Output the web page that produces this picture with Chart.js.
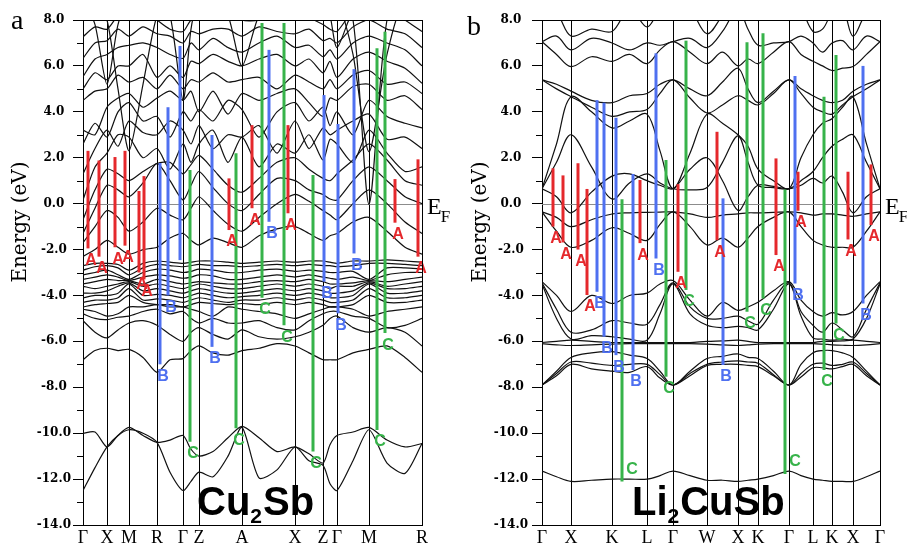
<!DOCTYPE html>
<html><head><meta charset="utf-8">
<script src="https://cdn.jsdelivr.net/npm/chart.js@4.4.0/dist/chart.umd.min.js"></script>
<style>
html,body{margin:0;padding:0;background:#fff;}
#wrap{position:relative;width:907px;height:545px;overflow:hidden;background:#fff;}
#ca{position:absolute;left:0;top:0;}
#cb{position:absolute;left:455px;top:0;}
</style></head><body>
<div id="wrap"><canvas id="ca" width="455" height="545"></canvas><canvas id="cb" width="452" height="545"></canvas></div>
<script>
// ---------------- Panel a : Cu2Sb ----------------
const kLabelsA = ['Γ','X','M','R','Γ','Z','A','X','Z','Γ','M','R'];
const kPosA    = [0,24,46,74,100,116,159,212,240,254,286,339];
const kSampleA = [0,12,24,35,46,60,74,87,100,108,116,130,145,159,176,194,212,226,240,247,254,270,286,304,322,339];
const bandsA = [
 [-12.5,-11.5,-10.6,-10.1,-9.85,-10.0,-10.4,-11.7,-12.5,-12.1,-11.7,-11.9,-11.0,-9.75,-11.95,-11.6,-10.6,-11.2,-11.4,-12.2,-12.5,-11.2,-9.85,-11.3,-11.75,-10.45],
 [-10.0,-9.95,-10.6,-10.1,-9.75,-10.1,-10.4,-10.3,-10.1,-10.7,-11.0,-10.8,-10.2,-9.7,-10.2,-10.8,-10.6,-10.9,-11.3,-10.5,-10.1,-9.95,-9.75,-10.3,-10.6,-10.45],
 [-6.8,-6.4,-6.3,-6.4,-6.35,-6.7,-7.35,-6.8,-6.75,-6.4,-6.2,-6.5,-6.6,-6.4,-6.3,-6.1,-6.2,-6.5,-6.8,-6.8,-6.8,-6.5,-6.35,-6.2,-6.7,-7.35],
 [-5.1,-5.6,-5.85,-5.5,-5.2,-5.1,-5.3,-5.7,-6.0,-5.6,-5.4,-5.7,-5.9,-5.5,-5.8,-5.9,-5.8,-5.6,-5.3,-5.0,-4.9,-5.4,-5.6,-5.4,-5.6,-6.2],
 [-4.8,-5.0,-5.05,-4.95,-4.9,-4.7,-4.6,-4.8,-4.7,-5.0,-5.2,-5.0,-5.2,-5.2,-5.1,-5.4,-5.5,-5.1,-4.8,-4.7,-4.7,-4.9,-5.0,-5.4,-5.3,-5.0],
 [-4.6,-4.7,-4.9,-4.8,-4.5,-4.5,-4.4,-4.5,-4.5,-4.6,-4.7,-4.9,-4.5,-4.6,-4.7,-4.8,-5.0,-4.8,-4.6,-4.5,-4.5,-4.6,-4.9,-4.7,-4.6,-4.5],
 [-2.7,-2.6,-2.6,-2.65,-2.9,-2.6,-2.5,-2.55,-2.6,-2.55,-2.5,-2.5,-2.55,-2.6,-2.55,-2.5,-2.55,-2.5,-2.5,-2.55,-2.6,-2.5,-2.5,-2.45,-2.5,-2.55],
 [-2.9,-2.75,-2.7,-2.8,-3.1,-2.8,-2.65,-2.7,-2.75,-2.7,-2.65,-2.7,-2.7,-2.75,-2.7,-2.65,-2.7,-2.65,-2.7,-2.7,-2.75,-2.7,-2.6,-2.6,-2.65,-2.7],
 [-3.1,-3.0,-2.9,-3.1,-3.3,-3.0,-2.85,-2.9,-3.0,-2.95,-2.85,-2.9,-3.0,-3.0,-2.9,-2.85,-2.95,-2.9,-2.95,-3.0,-3.0,-2.95,-3.3,-2.8,-2.8,-2.85],
 [-3.3,-3.2,-3.1,-3.2,-3.35,-3.2,-3.1,-3.15,-3.25,-3.2,-3.1,-3.15,-3.3,-3.3,-3.2,-3.1,-3.2,-3.1,-3.2,-3.25,-3.3,-3.2,-3.35,-3.1,-3.0,-3.0],
 [-3.5,-3.4,-3.3,-3.35,-3.35,-3.5,-3.3,-3.4,-3.5,-3.45,-3.4,-3.45,-3.5,-3.5,-3.4,-3.35,-3.4,-3.3,-3.4,-3.5,-3.5,-3.45,-3.35,-3.4,-3.3,-3.2],
 [-3.6,-3.7,-3.6,-3.5,-3.4,-3.6,-3.5,-3.6,-3.7,-3.6,-3.5,-3.6,-3.7,-3.7,-3.6,-3.5,-3.6,-3.5,-3.6,-3.7,-3.6,-3.6,-3.4,-3.6,-3.5,-3.4],
 [-3.9,-3.9,-3.8,-3.6,-3.45,-3.8,-3.7,-3.8,-3.9,-3.8,-3.7,-3.8,-3.9,-3.9,-3.8,-3.7,-3.8,-3.7,-3.8,-3.9,-3.9,-3.8,-3.45,-3.7,-3.7,-3.6],
 [-4.1,-4.0,-4.0,-3.9,-3.5,-4.0,-3.95,-4.0,-4.1,-4.0,-3.9,-4.0,-4.1,-4.05,-4.0,-3.9,-4.0,-3.9,-4.0,-4.1,-4.1,-4.0,-3.5,-3.9,-3.9,-3.8],
 [-4.3,-4.2,-4.2,-4.1,-3.7,-4.2,-4.15,-4.2,-4.3,-4.2,-4.1,-4.2,-4.3,-4.2,-4.2,-4.1,-4.2,-4.1,-4.2,-4.3,-4.3,-4.2,-3.7,-4.1,-4.1,-4.0],
 [-4.5,-4.4,-4.35,-4.3,-4.0,-4.3,-4.4,-4.4,-4.5,-4.4,-4.3,-4.35,-4.4,-4.35,-4.4,-4.3,-4.4,-4.3,-4.4,-4.5,-4.5,-4.4,-4.0,-4.3,-4.3,-4.2],
 [-2.3,-2.0,-1.6,-1.9,-2.2,-2.0,-1.9,-1.5,-1.3,-1.6,-1.8,-1.5,-1.7,-1.9,-1.4,-1.1,-1.0,-1.3,-1.6,-1.4,-1.3,-0.8,-0.6,-1.2,-1.9,-2.2],
 [-1.7,-1.0,-0.3,-0.6,-1.2,-0.8,-0.2,-0.5,-0.7,-0.2,0.3,-0.3,-0.9,-1.2,-0.6,0.0,0.4,0.1,-0.3,-0.5,-0.7,0.0,0.6,0.0,-0.8,-1.3],
 [-1.3,-0.2,0.8,0.6,0.3,0.9,1.75,1.0,0.16,0.8,1.4,0.7,0.0,-0.3,0.4,1.1,1.0,0.6,0.4,0.2,0.16,1.0,1.6,1.0,0.3,0.0],
 [-0.7,0.6,1.5,1.3,1.0,1.4,1.75,1.8,1.3,1.7,2.1,1.5,0.8,0.5,1.1,1.8,2.0,1.5,1.1,1.0,1.3,1.9,2.6,1.9,1.0,0.8],
 [0.16,1.6,2.2,3.0,2.9,2.0,2.4,1.5,2.6,1.8,2.6,3.2,1.8,2.9,1.6,2.6,2.2,3.0,1.9,2.8,2.6,1.8,3.2,2.2,1.4,1.6],
 [1.3,2.4,3.2,2.5,3.6,3.1,3.0,3.6,3.2,2.6,3.4,2.4,3.0,2.9,3.4,2.2,3.6,2.4,3.3,3.0,3.2,3.6,3.9,2.8,2.9,2.4],
 [2.6,3.5,2.9,4.0,4.4,3.6,3.8,2.9,4.0,3.6,4.1,3.6,4.5,4.1,2.9,4.0,4.4,3.6,4.2,3.4,4.0,3.0,4.5,3.8,3.5,3.3],
 [3.2,3.0,4.2,4.6,4.8,4.2,4.6,4.9,4.5,4.9,4.0,4.9,3.9,4.8,4.5,4.8,5.0,4.4,3.8,4.6,4.5,5.1,5.2,4.5,4.7,4.1],
 [4.5,4.9,5.0,5.6,5.3,5.5,5.0,5.6,5.0,5.4,5.3,5.7,5.3,5.4,5.5,5.0,5.6,5.3,5.0,5.4,5.0,5.6,5.8,5.2,5.3,4.8],
 [5.0,5.7,5.4,6.0,6.0,6.5,5.5,6.0,5.5,6.2,6.1,6.5,6.2,6.0,6.3,6.5,6.0,6.3,5.7,6.2,5.5,6.3,6.6,6.2,5.9,5.24],
 [5.53,6.3,6.5,6.8,6.9,7.0,6.8,6.5,6.33,7.0,6.7,7.2,6.8,6.6,7.0,7.3,6.8,6.9,6.4,6.7,6.3,7.0,7.3,7.0,6.7,6.0],
 [6.33,7.0,7.1,7.6,7.3,7.7,7.4,7.3,7.0,7.5,7.4,7.6,7.6,7.3,7.7,7.5,7.4,7.6,7.1,7.2,7.0,7.7,8.0,7.6,7.4,6.8],
 [7.27,7.7,7.6,8.2,8.5,8.5,8.0,7.6,7.5,8.0,8.1,8.3,8.6,8.0,8.0,8.4,8.3,8.1,7.8,7.6,7.5,8.4,8.7,8.6,8.0,7.5],
 [9,9,8.0,5.0,2.3,5.2,8.2,9,9,9,9,9,9,9,9,9,9,9,9,9,9,9,9,9,9,9],
 [9,9,9,9,9,9,9,9,9,9,9,9,9,9,9,9,9,9,9,9,9,8.0,-0.03,8.0,9,9],
 [9,9,9,9,9,9,9,9,9,9,9,9,9,9,9,9,9,9,9,9,9,6.5,2.26,6.5,9,9],
 [9,9,9,9,9,9,9,9,9,9,9,9,8.2,6.0,8.2,9,9,9,9,9,9,9,9,9,9,9],
 [9,9,9,9,9,9,9,8.2,4.5,7.6,9,9,9,9,9,9,9,9,9,9,9,9,9,9,9,9],
 [9,7.8,5.2,7.8,9,9,9,9,9,9,9,9,9,9,9,9,9,9,9,9,9,9,9,9,9,9],
 [9,9,9,9,9,9,9,9,9,9,9,9,9,9,9,9,9,9,9,8.2,6.8,8.4,9,9,9,9]
];
// vertical transition bars: [k, top energy, bottom energy, labelled]
const redBarsA   = [[5,2.3,-1.95,1],[16,1.88,-2.31,1],[32,2.03,-1.9,1],[42,2.3,-1.83,1],[56,0.55,-3.0,1],[61,1.2,-3.3,1],[146,1.1,-1.15,1],[169,3.42,-0.2,1],[205,3.42,-0.42,1],[312,1.07,-0.83,1],[335,1.93,-2.31,1]];
const blueBarsA  = [[77,1.77,-7.0,1],[85,4.2,-4.0,1],[97,6.87,-2.46,0],[129,2.99,-6.24,1],[186,6.7,-0.79,1],[241,4.73,-3.4,1],[255,3.47,-4.78,1],[271,5.86,-2.17,1]];
const greenBarsA = [[107,1.46,-10.37,1],[153,2.19,-9.78,1],[179,7.87,-4.1,1],[201,7.87,-5.3,1],[230,1.25,-10.8,1],[294,6.77,-9.86,1],[302,7.49,-5.64,1]];

// ---------------- Panel b : Li2CuSb ----------------
const kLabelsB = ['Γ','X','K','L','Γ','W','X','K','Γ','L','K','X','Γ'];
const kPosB    = [0,29,70,105,131,165,196,216,247,271,290,311,338];
const kSampleB = [0,14.5,29,49.5,70,87.5,105,118,131,148,165,180.5,196,206,216,231.5,247,259,271,280.5,290,300.5,311,324.5,338];
const bandsB = [
 [-11.65,-11.9,-12.1,-12.05,-12.0,-12.0,-12.0,-11.85,-11.65,-11.85,-12.05,-12.05,-12.1,-12.05,-12.0,-11.85,-11.65,-11.85,-12.0,-12.05,-12.1,-12.1,-12.1,-11.9,-11.65],
 [-7.9,-7.3,-6.7,-6.5,-6.45,-6.6,-6.75,-7.3,-7.9,-7.3,-6.75,-6.65,-6.55,-6.7,-6.75,-7.3,-7.9,-7.0,-6.5,-6.4,-6.4,-6.5,-6.7,-7.3,-7.9],
 [-7.9,-7.4,-6.9,-6.95,-7.05,-7.0,-7.0,-7.45,-7.9,-7.4,-7.0,-6.9,-6.85,-6.9,-6.95,-7.45,-7.9,-7.4,-7.0,-6.95,-7.05,-7.0,-6.9,-7.4,-7.9],
 [-7.9,-7.5,-7.0,-7.2,-7.3,-7.35,-7.1,-7.6,-7.9,-7.5,-7.05,-7.0,-7.0,-7.05,-7.1,-7.5,-7.9,-7.55,-7.15,-7.15,-7.2,-7.1,-7.0,-7.5,-7.9],
 [-6.05,-6.0,-5.95,-6.0,-6.05,-6.05,-6.05,-6.05,-6.05,-6.05,-6.0,-5.98,-5.95,-6.0,-6.05,-6.05,-6.05,-6.05,-6.05,-6.0,-6.0,-5.98,-5.95,-6.0,-6.05],
 [-6.1,-6.15,-6.18,-6.15,-6.12,-6.1,-6.1,-6.1,-6.1,-6.1,-6.12,-6.15,-6.18,-6.15,-6.12,-6.1,-6.1,-6.1,-6.1,-6.12,-6.15,-6.17,-6.18,-6.15,-6.1],
 [-3.4,-4.0,-4.7,-4.0,-4.35,-4.0,-3.9,-3.5,-3.35,-4.2,-4.9,-4.3,-4.65,-4.5,-4.3,-3.8,-3.4,-4.2,-4.7,-4.9,-4.75,-4.85,-4.7,-4.0,-3.4],
 [-3.45,-4.6,-5.6,-5.5,-5.1,-5.2,-5.25,-4.4,-3.45,-4.5,-5.0,-5.0,-4.9,-5.1,-5.25,-4.2,-3.45,-4.7,-5.3,-5.6,-5.2,-5.5,-5.8,-4.6,-3.45],
 [-3.5,-5.0,-5.9,-5.75,-5.8,-5.9,-5.95,-4.8,-3.5,-4.8,-5.3,-5.4,-5.35,-5.4,-5.5,-4.6,-3.5,-4.9,-5.85,-5.9,-5.95,-5.9,-5.9,-5.0,-3.5],
 [-0.36,-1.2,-1.9,-1.6,-1.05,-1.3,-1.6,-0.9,-0.36,-1.0,-1.8,-1.5,-1.9,-1.5,-1.0,-0.6,-0.36,-1.0,-1.6,-1.8,-1.9,-1.9,-1.9,-1.2,-0.36],
 [-0.36,-0.6,-1.0,-0.7,-0.45,-0.4,-0.38,-0.37,-0.36,-0.45,-0.6,-0.5,-0.45,-0.4,-0.4,-0.38,-0.36,-0.4,-0.5,-0.45,-0.45,-0.5,-0.55,-0.45,-0.36],
 [0.65,1.8,3.0,1.6,0.2,0.9,1.3,0.9,0.65,0.6,0.7,1.8,2.95,1.8,0.8,0.7,0.65,1.0,1.4,2.0,2.5,2.8,3.0,1.8,0.65],
 [0.65,0.3,-0.4,0.5,1.2,1.3,1.0,0.8,0.65,1.5,2.0,1.0,-0.3,0.3,0.8,0.75,0.65,0.8,1.1,0.9,1.2,0.5,-0.4,0.3,0.65],
 [0.65,2.6,4.66,4.0,3.3,3.6,3.9,2.3,0.65,2.2,3.9,3.5,3.0,2.5,1.5,1.0,0.65,2.0,3.0,3.5,3.7,4.2,4.66,2.6,0.65],
 [5.39,5.0,4.66,4.2,3.8,4.0,4.1,4.8,5.39,4.6,3.95,4.3,4.7,4.5,4.3,4.8,5.39,4.8,4.2,4.0,3.9,4.3,4.66,5.0,5.39],
 [5.39,5.2,4.9,4.5,4.4,4.7,4.8,5.2,5.39,5.0,4.7,5.3,5.9,5.0,4.4,4.9,5.39,5.0,4.7,4.5,4.4,4.5,4.9,5.2,5.39],
 [7.06,6.5,5.97,6.4,6.2,6.5,6.1,6.7,7.06,6.6,6.1,6.6,6.0,6.3,6.1,6.6,7.06,6.5,6.2,6.0,5.8,5.9,5.97,6.5,7.06],
 [7.06,7.3,6.7,7.2,7.0,6.7,7.0,6.9,7.06,7.2,6.8,7.5,8.5,7.6,6.9,7.0,7.06,7.3,7.0,6.6,7.0,7.1,6.7,7.3,7.06],
 [8.5,8.3,7.3,7.6,7.5,8.5,7.7,8.5,9.0,8.5,7.4,8.2,9.0,8.5,8.2,8.5,9.0,8.5,7.5,7.6,8.3,8.5,7.3,8.3,8.5]
];
const redBarsB   = [[11,1.54,-1.0,1],[21,1.23,-1.69,1],[36,1.76,-2.0,1],[45,0.64,-3.98,1],[98,1.03,-1.72,1],[136,0.85,-2.97,1],[175,3.13,-1.59,1],[234,1.97,-2.24,1],[256,1.39,-0.31,1],[306,1.39,-1.56,1],[329,1.71,-0.93,1]];
const blueBarsB  = [[55,4.51,-3.84,1],[62,4.4,-5.8,1],[74,3.74,-6.6,1],[91,1.29,-7.25,1],[114,6.55,-2.39,1],[181,0.23,-7.03,1],[253,5.56,-3.48,1],[321,6.0,-4.35,1]];
const greenBarsB = [[80,0.19,-12.1,1],[124,1.9,-7.54,1],[144,7.1,-3.76,1],[205,7.03,-4.71,1],[221,7.42,-4.13,1],[243,0.62,-11.78,1],[282,4.66,-7.25,1],[294,6.47,-5.22,1]];

const yTickStep = 2, yMin = -14, yMax = 8;

// ---------------- drawing ----------------
const RED='#e5282c', BLUE='#4f70f0', GREEN='#37b34a';

function buildChart(canvasId, cfg){
  const groups = [
    {list:cfg.red, color:RED, letter:'A'},
    {list:cfg.blue, color:BLUE, letter:'B'},
    {list:cfg.green, color:GREEN, letter:'C'}
  ];
  const datasets = [];
  groups.forEach(g => g.list.forEach(b => datasets.push({
    data:[{x:b[0],y:b[2]},{x:b[0],y:b[1]}], borderColor:g.color, borderWidth:3,
    pointRadius:0, tension:0, order:0, borderCapStyle:'butt'
  })));
  cfg.bands.forEach(band => datasets.push({
    data: cfg.samples.map((k,i)=>({x:k,y:band[i]})), borderColor:'#111', borderWidth:1.2,
    pointRadius:0, tension:cfg.tension, order:1
  }));
  const deco = {
    id:'deco_'+canvasId,
    beforeDatasetsDraw(chart){
      const {ctx, chartArea:a, scales:{y}} = chart;
      const y0 = Math.round(y.getPixelForValue(0))+0.5;
      ctx.save(); ctx.strokeStyle='#8c8c8c'; ctx.lineWidth=1;
      ctx.beginPath(); ctx.moveTo(a.left,y0); ctx.lineTo(a.right,y0); ctx.stroke(); ctx.restore();
    },
    afterDatasetsDraw(chart){
      const {ctx, scales:{x,y}} = chart;
      ctx.save();
      ctx.font='bold 16px "Liberation Sans", Arial, sans-serif';
      ctx.textAlign='center'; ctx.textBaseline='middle';
      groups.forEach(g => g.list.forEach(b => {
        if(!b[3]) return;
        const px = x.getPixelForValue(b[0]), py = y.getPixelForValue(b[2]);
        ctx.fillStyle = g.color;
        if(b[2] < -11.5) ctx.fillText(g.letter, px+10, py-12);
        else ctx.fillText(g.letter, px+3, py+12);
      }));
      ctx.restore();
    },
    afterDraw(chart){
      const {ctx, chartArea:a, scales:{y}} = chart;
      ctx.save();
      ctx.strokeStyle='#000'; ctx.lineWidth=1;
      ctx.beginPath();
      ctx.moveTo(a.left-10, a.top+0.5); ctx.lineTo(a.right+0.5, a.top+0.5); ctx.lineTo(a.right+0.5, a.bottom);
      ctx.stroke();
      ctx.beginPath();
      for(let v=yMin+1; v<yMax; v+=2){
        const py = Math.round(y.getPixelForValue(v))+0.5;
        ctx.moveTo(a.left-6, py); ctx.lineTo(a.left, py);
      }
      ctx.stroke();
      ctx.fillStyle='#000';
      ctx.font = cfg.letterFont; ctx.textAlign='left'; ctx.textBaseline='alphabetic';
      ctx.fillText(cfg.letter, cfg.letterX, cfg.letterY);
      ctx.save(); ctx.translate(cfg.titleX, cfg.titleY); ctx.rotate(-Math.PI/2);
      ctx.font='20px "DejaVu Serif", serif'; ctx.textAlign='center'; ctx.textBaseline='middle';
      ctx.fillText('Energy (eV)',0,0); ctx.restore();
      const ey = y.getPixelForValue(0);
      ctx.font='24px "Liberation Serif", serif'; ctx.textAlign='left';
      ctx.fillText('E', a.right+5, ey+10);
      const ew = ctx.measureText('E').width;
      ctx.font='17px "Liberation Serif", serif';
      ctx.fillText('F', a.right+5+ew-1, ey+18);
      let cx = cfg.nameX;
      cfg.name.forEach(part => {
        ctx.font = part.sub ? 'bold 21px "Liberation Sans", Arial, sans-serif' : 'bold 40px "Liberation Sans", Arial, sans-serif';
        ctx.fillText(part.t, cx, part.sub ? cfg.nameY+8 : cfg.nameY);
        cx += ctx.measureText(part.t).width + (part.sub?1:0);
      });
      ctx.restore();
    }
  };
  return new Chart(document.getElementById(canvasId), {
    type:'line',
    data:{datasets},
    options:{
      responsive:false, animation:false, devicePixelRatio:1, events:[],
      layout:{padding:{left:0, top:20, right:cfg.padRight, bottom:0}},
      plugins:{legend:{display:false}, tooltip:{enabled:false}},
      scales:{
        x:{type:'linear', min:0, max:cfg.kPos[cfg.kPos.length-1],
           afterBuildTicks: s => { s.ticks = cfg.kPos.map(v=>({value:v})); },
           afterFit: s => { s.height = 20; },
           ticks:{autoSkip:false, maxRotation:0, padding:2, color:'#000',
                  font:{family:'"Liberation Serif", serif', size:18},
                  callback:(v,i)=>cfg.kLabels[i]},
           grid:{color:'#000', lineWidth:1, drawTicks:false, drawOnChartArea:true},
           border:{display:true, color:'#000', width:1}},
        y:{type:'linear', min:yMin, max:yMax,
           afterFit: s => { s.width = cfg.yWidth; },
           ticks:{stepSize:yTickStep, color:'#000', crossAlign:'center', padding:cfg.yPad,
                  font:{family:'"DejaVu Serif", serif', size:12, weight:'bold'},
                  callback:v => (Math.abs(v)<1e-9?0:v).toFixed(1)},
           grid:{drawOnChartArea:false, drawTicks:true, tickLength:10, color:'#000'},
           border:{display:true, color:'#000', width:1}}
      }
    },
    plugins:[deco]
  });
}

buildChart('ca', {
  kPos:kPosA, kLabels:kLabelsA, samples:kSampleA, bands:bandsA, tension:0.25,
  red:redBarsA, blue:blueBarsA, green:greenBarsA,
  padRight:33, yWidth:83, yPad:2,
  letter:'a', letterFont:'28px "Liberation Serif", serif', letterX:11, letterY:29,
  titleX:21, titleY:222,
  name:[{t:'Cu'},{t:'2',sub:true},{t:'Sb'}], nameX:197, nameY:515
});
buildChart('cb', {
  kPos:kPosB, kLabels:kLabelsB, samples:kSampleB, bands:bandsB, tension:0.35,
  red:redBarsB, blue:blueBarsB, green:greenBarsB,
  padRight:27, yWidth:87, yPad:4,
  letter:'b', letterFont:'28px "Liberation Serif", serif', letterX:12, letterY:35,
  titleX:26, titleY:222,
  name:[{t:'Li'},{t:'2',sub:true},{t:'CuSb'}], nameX:177, nameY:515
});
</script>
</body></html>
